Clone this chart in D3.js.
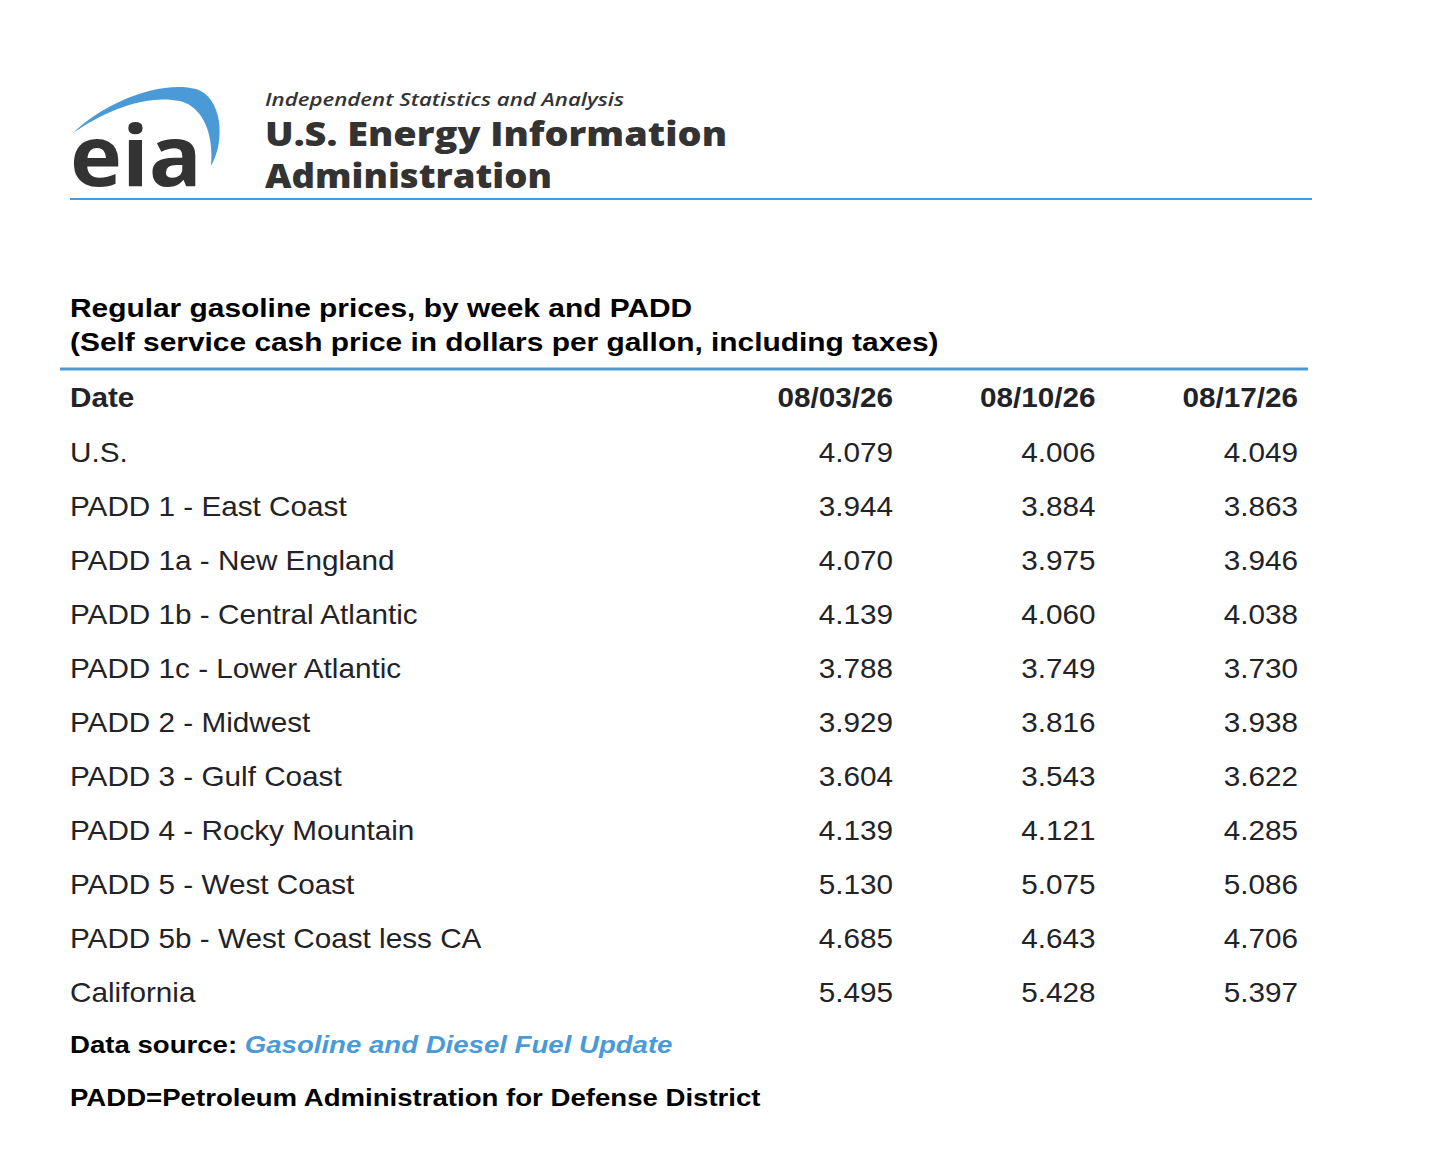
<!DOCTYPE html>
<html>
<head>
<meta charset="utf-8">
<script src="https://cdn.jsdelivr.net/npm/d3@7"></script>
<style>
  body { margin: 0; background: #fff; }
  svg { display: block; }
</style>
</head>
<body>
<svg class="tableSVG" width="1430" height="1156"></svg>
<script>
const svg = d3.select('svg.tableSVG');

// data
const weeks = ['08/03/26', '08/10/26', '08/17/26'];
const regions = [
  'U.S.',
  'PADD 1 - East Coast',
  'PADD 1a - New England',
  'PADD 1b - Central Atlantic',
  'PADD 1c - Lower Atlantic',
  'PADD 2 - Midwest',
  'PADD 3 - Gulf Coast',
  'PADD 4 - Rocky Mountain',
  'PADD 5 - West Coast',
  'PADD 5b - West Coast less CA',
  'California'
];
const week1 = [4.079, 3.944, 4.070, 4.139, 3.788, 3.929, 3.604, 4.139, 5.130, 4.685, 5.495];
const week2 = [4.006, 3.884, 3.975, 4.060, 3.749, 3.816, 3.543, 4.121, 5.075, 4.643, 5.428];
const week3 = [4.049, 3.863, 3.946, 4.038, 3.730, 3.938, 3.622, 4.285, 5.086, 4.706, 5.397];

const titleLines = [
  'Regular gasoline prices, by week and PADD',
  '(Self service cash price in dollars per gallon, including taxes)'
];

const blue = '#4a9ad8';
const ink = '#222328';
const sans = 'Liberation Sans, Arial, Helvetica, sans-serif';

// the source renders its type a little wider than Liberation Sans
const bodyStretch = 1.1;
const titleStretch = 1.15;
const noteStretch = 1.2;

const rows = regions.map((r, i) => ({region: r, vals: [week1[i], week2[i], week3[i]]}));

const xScale = d3.scalePoint().domain(weeks).range([893, 1298]);
const yScale = d3.scalePoint().domain(regions).range([462, 1002]);

function place(x, y, sx){
  return `translate(${x},${y}) scale(${sx},1)`;
}

// logo
const logo = svg.append('g').attr('class', 'logo');

logo.append('path')
  .attr('d', 'M73,133 C105,102 160,80 196,89 C222,97 226,140 211,166 C214,136 204,107 180,101 C145,94 105,111 73,133 Z')
  .style('fill', blue);

logo.append('text')
  .attr('x', 70)
  .attr('y', 186)
  .text('eia')
  .style('font-family', 'Open Sans, Lato, sans-serif')
  .style('font-weight', 700)
  .style('font-size', '84px')
  .style('fill', '#333333')
  .attr('textLength', 132)
  .attr('lengthAdjust', 'spacingAndGlyphs');

logo.append('text')
  .attr('x', 265)
  .attr('y', 106)
  .text('Independent Statistics and Analysis')
  .style('font-family', 'Open Sans, sans-serif')
  .style('font-style', 'italic')
  .style('font-weight', 600)
  .style('font-size', '18px')
  .style('fill', '#333333')
  .attr('textLength', 359)
  .attr('lengthAdjust', 'spacingAndGlyphs');

logo.append('text')
  .attr('x', 265)
  .attr('y', 146)
  .text('U.S. Energy Information')
  .style('font-family', 'Open Sans, sans-serif')
  .style('font-weight', 800)
  .style('font-size', '34px')
  .style('fill', '#333333')
  .attr('textLength', 462)
  .attr('lengthAdjust', 'spacingAndGlyphs');

logo.append('text')
  .attr('x', 265)
  .attr('y', 188)
  .text('Administration')
  .style('font-family', 'Open Sans, sans-serif')
  .style('font-weight', 800)
  .style('font-size', '34px')
  .style('fill', '#333333')
  .attr('textLength', 287)
  .attr('lengthAdjust', 'spacingAndGlyphs');

svg.append('line')
  .attr('x1', 70).attr('x2', 1312)
  .attr('y1', 199).attr('y2', 199)
  .style('stroke', blue)
  .style('stroke-width', 2);

// title
svg.append('g')
  .attr('class', 'titles')
  .selectAll('text')
  .data(titleLines)
  .enter()
  .append('text')
  .attr('transform', (d, i) => place(70, 317 + i * 34, titleStretch))
  .text(d => d)
  .style('font-family', sans)
  .style('font-weight', 700)
  .style('font-size', '26px')
  .style('fill', '#000');

svg.append('line')
  .attr('x1', 60).attr('x2', 1308)
  .attr('y1', 369).attr('y2', 369)
  .style('stroke', blue)
  .style('stroke-width', 3);

// header row
const head = svg.append('g').attr('class', 'header');

head.append('text')
  .attr('transform', place(70, 407, bodyStretch))
  .text('Date')
  .style('font-family', sans)
  .style('font-weight', 700)
  .style('font-size', '27px')
  .style('fill', ink);

head.selectAll('text.week')
  .data(weeks)
  .enter()
  .append('text')
  .attr('class', 'week')
  .attr('transform', d => place(xScale(d), 407, bodyStretch))
  .text(d => d)
  .style('text-anchor', 'end')
  .style('font-family', sans)
  .style('font-weight', 700)
  .style('font-size', '27px')
  .style('fill', ink);

// body rows
const rowG = svg.append('g')
  .attr('class', 'rows')
  .selectAll('g')
  .data(rows)
  .enter()
  .append('g')
  .attr('transform', d => `translate(0,${yScale(d.region)})`);

rowG.append('text')
  .attr('transform', place(70, 0, bodyStretch))
  .text(d => d.region)
  .style('font-family', sans)
  .style('font-size', '27px')
  .style('fill', ink);

rowG.selectAll('text.val')
  .data(d => d.vals.map((v, i) => ({week: weeks[i], v: v})))
  .enter()
  .append('text')
  .attr('class', 'val')
  .attr('transform', d => place(xScale(d.week), 0, bodyStretch))
  .text(d => d3.format('.3f')(d.v))
  .style('text-anchor', 'end')
  .style('font-family', sans)
  .style('font-size', '27px')
  .style('fill', ink);

// footnotes
const src = svg.append('text')
  .attr('transform', place(70, 1053, noteStretch))
  .style('font-family', sans)
  .style('font-weight', 700)
  .style('font-size', '23px');

src.append('tspan').text('Data source: ').style('fill', '#000');
src.append('tspan').text('Gasoline and Diesel Fuel Update')
  .style('fill', blue)
  .style('font-style', 'italic');

svg.append('text')
  .attr('transform', place(70, 1106, noteStretch))
  .text('PADD=Petroleum Administration for Defense District')
  .style('font-family', sans)
  .style('font-weight', 700)
  .style('font-size', '23px')
  .style('fill', '#000');
</script>
</body>
</html>
